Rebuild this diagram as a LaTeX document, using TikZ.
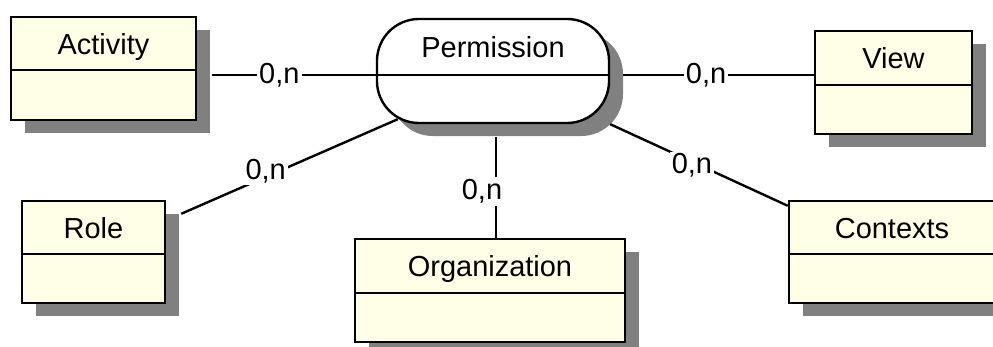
\documentclass[tikz,border=0pt]{standalone}
\usepackage{fontspec}
\setmainfont{Liberation Sans}
\usepackage{tikz}
\usetikzlibrary{positioning}
\usetikzlibrary{shadows}
\usepackage{xcolor}

\definecolor{boxfill}{RGB}{255,255,232}
\definecolor{shadowgray}{RGB}{128,128,128}

\tikzset{
  boxshadow/.style={drop shadow={shadow xshift=0.35cm, shadow yshift=-0.325cm, fill=shadowgray, opacity=1}},
  classbox/.style={draw, fill=boxfill, line width=1.7pt, minimum height=2.575cm, inner sep=0pt, boxshadow},
  assocbox/.style={draw, fill=white, rounded corners=1.05cm, line width=1.7pt, minimum width=5.8cm, minimum height=2.6cm, inner sep=0pt, boxshadow},
  classname/.style={anchor=base, inner sep=0pt, font=\fontsize{20.6}{24}\selectfont},
  card/.style={fill=white, inner sep=1.5pt, font=\fontsize{20.6}{24}\selectfont},
  link/.style={line width=1.7pt}
}

\begin{document}
\begin{tikzpicture}[x=0.025cm, y=-0.025cm]

\useasboundingbox (0,0) rectangle (993,347);
\clip (0,0) rectangle (993,347);

% classes
\node[classbox, minimum width=4.625cm] (activity) at (103.5,68.5) {};
\node[classname] (activity-name) at ([yshift=-0.975cm]activity.north) {Activity};
\draw[link] ([yshift=-1.35cm]activity.north west) -- ([yshift=-1.35cm]activity.north east);

\node[classbox, minimum width=3.925cm] (view) at (893.5,82.5) {};
\node[classname] (view-name) at ([yshift=-0.975cm]view.north) {View};
\draw[link] ([yshift=-1.375cm]view.north west) -- ([yshift=-1.375cm]view.north east);

\node[classbox, minimum width=3.575cm, minimum height=2.55cm] (role) at (93.5,252) {};
\node[classname] (role-name) at ([yshift=-0.975cm]role.north) {Role};
\draw[link] ([yshift=-1.35cm]role.north west) -- ([yshift=-1.35cm]role.north east);

\node[classbox, minimum width=6.75cm] (organization) at (490,290.5) {};
\node[classname] (organization-name) at ([yshift=-0.975cm]organization.north) {Organization};
\draw[link] ([yshift=-1.375cm]organization.north west) -- ([yshift=-1.375cm]organization.north east);

\node[classbox, minimum width=5.15cm, minimum height=2.55cm] (contexts) at (892,252) {};
\node[classname] (contexts-name) at ([yshift=-0.975cm]contexts.north) {Contexts};
\draw[link] ([yshift=-1.35cm]contexts.north west) -- ([yshift=-1.35cm]contexts.north east);

% association
\node[assocbox] (permission) at (493,71) {};
\node[classname] (permission-name) at ([yshift=-1cm]permission.north) {Permission};
\coordinate (perm-dw) at ([yshift=-0.1cm]permission.west);
\coordinate (perm-de) at ([yshift=-0.1cm]permission.east);
\draw[link] (perm-dw) -- (perm-de);

% links
\coordinate (activity-s) at ([xshift=0.375cm]activity.east);
\draw[link] (activity-s |- perm-dw) -- node[card, pos=0.41] (card-activity) {0,n} (perm-dw);

\coordinate (perm-se) at ([xshift=0.325cm]perm-de);
\draw[link] (perm-se) -- node[card, pos=0.435] (card-view) {0,n} (view.west |- perm-de);

\coordinate (role-s) at ([xshift=0.375cm,yshift=-0.35cm]role.north east);
\coordinate (perm-sw) at ([xshift=0.55cm,yshift=0.125cm]permission.south west);
\draw[link] (role-s) -- node[card, pos=0.39, yshift=0.15cm] (card-role) {0,n} (perm-sw);

\coordinate (perm-s) at ([xshift=0.075cm,yshift=-0.325cm]permission.south);
\draw[link] (perm-s) -- node[card, pos=0.54, xshift=-0.35cm] (card-organization) {0,n} (perm-s |- organization.north);

\coordinate (contexts-nw) at ([yshift=-0.15cm]contexts.north west);
\draw[link] (permission.south east) -- node[card, pos=0.46, yshift=-0.1cm] (card-contexts) {0,n} (contexts-nw);

\end{tikzpicture}
\end{document}
